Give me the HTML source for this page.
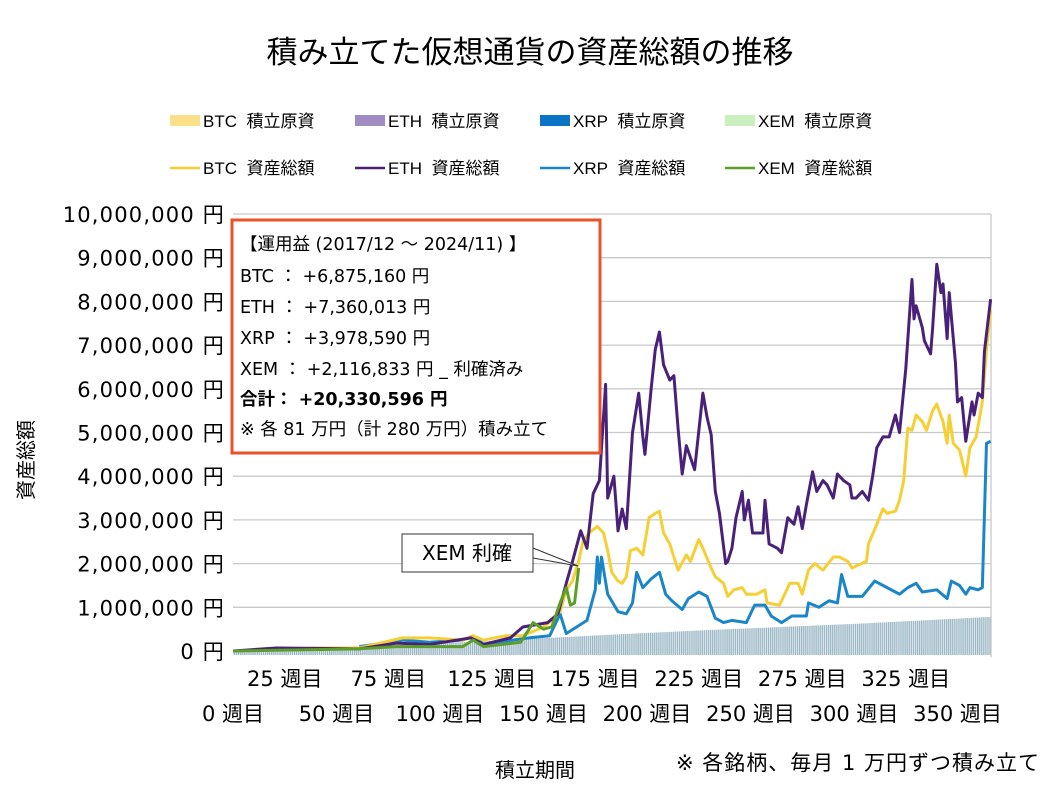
<!DOCTYPE html>
<html><head><meta charset="utf-8">
<style>
body{margin:0;background:#fff;}
svg text{font-family:"Liberation Sans","Noto Sans CJK JP",sans-serif;fill:#000;}
svg .dj text, svg text.dj{font-family:"DejaVu Sans","Noto Sans CJK JP",sans-serif;}
</style></head>
<body>
<svg id="chart" width="1058" height="794" viewBox="0 0 1058 794" xmlns="http://www.w3.org/2000/svg">
<defs>
<pattern id="stripes" width="2.07" height="10" patternUnits="userSpaceOnUse">
<rect width="2.07" height="10" fill="#dfe9ee"/><rect width="1.1" height="10" fill="#98b4c3"/>
</pattern>
</defs>
<text x="530" y="63" font-size="31" text-anchor="middle">積み立てた仮想通貨の資産総額の推移</text>
<g id="legend" font-size="17"></g>
<g id="grid"></g>
<g id="yaxis" font-size="21" class="dj" letter-spacing="1.2"></g>
<g id="xaxis" font-size="21" class="dj"></g>
<g id="series"></g>
<text transform="translate(33,460) rotate(-90)" font-size="20" text-anchor="middle">資産総額</text>
<text x="535" y="777" font-size="20" text-anchor="middle">積立期間</text>
<text x="1040" y="770" font-size="21" class="dj" letter-spacing="1" text-anchor="end">※ 各銘柄、毎月 1 万円ずつ積み立て</text>
<g>
<rect x="232" y="220" width="368" height="233" fill="#fff" stroke="#e8532a" stroke-width="3"/>
<g font-size="17.5" class="dj">
<text x="240" y="250">【運用益 (2017/12 ～ 2024/11) 】</text>
<text x="240" y="282">BTC ： +6,875,160 円</text>
<text x="240" y="313">ETH ： +7,360,013 円</text>
<text x="240" y="344">XRP ： +3,978,590 円</text>
<text x="240" y="375">XEM ：  +2,116,833 円 _ 利確済み</text>
<text x="240" y="405" font-weight="bold">合計： +20,330,596 円</text>
<text x="240" y="435">※ 各 81 万円（計 280 万円）積み立て</text>
</g></g>
<g>
<polyline points="533,548 578,566 533,558" fill="#fff" stroke="#333" stroke-width="1"/>
<rect x="402" y="534" width="131" height="38" fill="#fff" stroke="#333" stroke-width="1"/>
<text x="467" y="560" font-size="20" class="dj" text-anchor="middle">XEM 利確</text>
</g>
</svg>
<script>
const yTicks=[0,1,2,3,4,5,6,7,8,9,10];
const yTickLabels=["0 円","1,000,000 円","2,000,000 円","3,000,000 円","4,000,000 円","5,000,000 円","6,000,000 円","7,000,000 円","8,000,000 円","9,000,000 円","10,000,000 円"];
const xTicks=[0,25,50,75,100,125,150,175,200,225,250,275,300,325,350];
const investWeeks=[0,60,120,177,225,300,366];
const investValues=[0.03,0.1,0.22,0.36,0.47,0.62,0.78];
const btcWeeks=[0,39,61,82,95,111,116,121,132,140,150,154,158,161,164,167,169,172,176,179,181,183,186,188,190,192,195,198,201,204,206,208,211,213,215,219,221,225,227,231,233,237,239,242,246,248,253,257,258,264,269,273,275,278,281,285,290,293,297,299,306,307,311,314,316,320,322,324,326,328,330,333,335,338,340,343,345,346,348,351,354,356,359,362,364,366];
const btcValues=[0.0,0.07,0.07,0.3,0.3,0.25,0.35,0.25,0.35,0.35,0.55,0.7,0.9,1.4,1.6,2.05,2.5,2.7,2.85,2.7,2.3,1.8,1.6,1.55,1.7,2.3,2.35,2.2,3.05,3.15,3.2,2.7,2.45,2.15,1.85,2.2,2.05,2.55,2.35,1.9,1.7,1.55,1.25,1.4,1.45,1.3,1.3,1.4,1.1,1.05,1.55,1.55,1.3,1.85,2.0,1.85,2.15,2.15,2.05,1.9,2.05,2.45,2.9,3.25,3.15,3.2,3.45,3.9,5.1,5.05,5.4,5.25,5.05,5.5,5.65,5.25,4.75,5.4,4.75,4.6,4.0,4.65,4.9,5.7,6.9,7.8];
const ethWeeks=[0,21,61,79,95,115,121,134,140,152,157,161,164,168,171,174,177,180,181,184,186,188,190,193,196,198,199,202,204,206,208,211,213,215,217,219,223,227,229,231,233,235,238,239,241,243,246,247,249,251,256,257,259,263,265,268,271,273,275,277,280,282,285,287,290,292,295,298,299,301,304,307,309,311,314,317,320,322,325,328,329,330,333,334,337,338,340,342,343,345,346,349,350,352,354,357,358,360,362,363,366];
const ethValues=[0,0.07,0.05,0.18,0.15,0.3,0.15,0.3,0.55,0.65,0.85,1.55,2.05,2.75,2.35,3.6,3.9,6.1,3.5,4.0,2.75,3.25,2.8,5.0,5.9,4.9,4.5,6.0,6.9,7.3,6.55,6.2,6.3,5.1,4.05,4.7,4.15,5.9,5.35,4.95,3.65,3.15,2.0,2.05,2.35,3.05,3.65,3.0,3.45,2.7,2.7,3.45,2.45,2.35,2.25,3.05,2.9,3.3,2.8,3.35,4.1,3.65,3.9,3.8,3.5,4.05,3.9,3.8,3.5,3.5,3.65,3.45,4.0,4.65,4.9,4.9,5.4,5.0,6.45,8.5,7.6,7.9,7.4,7.1,6.8,7.4,8.85,8.2,8.4,7.15,8.2,6.6,5.7,5.8,4.8,5.7,5.4,5.9,5.8,6.85,8.05];
const xrpWeeks=[61,76,82,95,111,116,121,135,143,153,158,161,166,171,175,176,177,178,181,186,190,193,195,198,202,206,209,212,217,220,225,229,233,237,241,248,252,257,260,265,270,277,278,283,288,292,294,297,304,310,316,322,326,330,333,340,345,347,351,354,356,360,362,364,366];
const xrpValues=[0.1,0.2,0.25,0.2,0.25,0.35,0.15,0.25,0.3,0.35,0.85,0.4,0.55,0.7,1.4,2.15,1.55,2.15,1.3,0.9,0.85,1.1,1.8,1.45,1.65,1.8,1.3,1.15,0.95,1.2,1.35,1.25,0.75,0.65,0.7,0.65,1.05,1.05,0.8,0.65,0.8,0.8,1.1,1.0,1.15,1.1,1.75,1.25,1.25,1.6,1.45,1.3,1.45,1.55,1.35,1.4,1.2,1.6,1.5,1.3,1.45,1.4,1.45,4.75,4.8];
const xemWeeks=[0,61,79,111,116,121,139,145,150,154,158,161,163,165,167];
const xemValues=[0,0.05,0.1,0.1,0.25,0.1,0.2,0.65,0.5,0.55,1.1,1.45,1.05,1.1,1.9];
const legendItems=[["BTC\u00a0\u00a0積立原資","#fbe08a","rect"],["ETH\u00a0\u00a0積立原資","#a08cc0","rect"],["XRP\u00a0\u00a0積立原資","#0b74c4","rect"],["XEM\u00a0\u00a0積立原資","#c9f0bd","rect"],["BTC\u00a0\u00a0資産総額","#f5cf35","line"],["ETH\u00a0\u00a0資産総額","#4a2178","line"],["XRP\u00a0\u00a0資産総額","#1a86c8","line"],["XEM\u00a0\u00a0資産総額","#5c9e2a","line"]];

const NS="http://www.w3.org/2000/svg";
const X0=233,XW=2.07,Y0=651,YS=43.7;
function xs(w){return X0+w*XW;}
function ys(v){return Y0-v*YS;}
function mk(tag,attrs,parent){const e=document.createElementNS(NS,tag);for(const k in attrs)e.setAttribute(k,attrs[k]);parent.appendChild(e);return e;}

const grid=document.getElementById('grid'),ya=document.getElementById('yaxis'),xa=document.getElementById('xaxis'),ser=document.getElementById('series'),lg=document.getElementById('legend');
yTicks.forEach((t,i)=>{
  const l=mk('line',{x1:X0,x2:991,y1:ys(t),y2:ys(t),stroke:'#c9c9c9','stroke-width':1.3},grid);
  
  
  const tx=mk('text',{x:225,y:ys(t)+8,'text-anchor':'end'},ya);
  tx.textContent=yTickLabels[i];
  
  
});
const rb=mk('line',{x1:991,x2:991,y1:ys(10),y2:657,stroke:'#c9c9c9','stroke-width':1.3},grid);


xTicks.forEach((t,i)=>{
  const tx=mk('text',{x:xs(t),y:(i%2?686:721),'text-anchor':'middle'},xa);
  tx.textContent=t+" 週目";
  
  
});
let pts=[[xs(investWeeks[0]),Y0+4]];
investWeeks.forEach((w,i)=>pts.push([xs(w),ys(investValues[i])]));
pts.push([xs(investWeeks[investWeeks.length-1]),Y0+4]);
const area=mk('polygon',{points:pts.map(p=>p.join(',')).join(' '),fill:'url(#stripes)'},ser);


function line(weeks,vals,color,name){
  const p=mk('polyline',{points:weeks.map((w,i)=>xs(w)+','+ys(vals[i])).join(' '),fill:'none',stroke:color,'stroke-width':3,'stroke-linejoin':'round'},ser);
  
  
}
line(xrpWeeks,xrpValues,'#1a86c8','xrp-line');
line(btcWeeks,btcValues,'#f5cf35','btc-line');
line(ethWeeks,ethValues,'#4a2178','eth-line');
line(xemWeeks,xemValues,'#5c9e2a','xem-line');
legendItems.forEach((it,i)=>{
  const col=i%4,row=Math.floor(i/4);
  const x=170+col*185,y=row?168:121;
  if(it[2]=='rect'){const r=mk('rect',{x:x,y:y-6,width:30,height:11,fill:it[1]},lg);}
  else{const r=mk('line',{x1:x,x2:x+30,y1:y,y2:y,stroke:it[1],'stroke-width':2.5},lg);}
  const t=mk('text',{x:x+33,y:y+6},lg);
  t.textContent=it[0];
  
  
});
</script>
</body></html>
